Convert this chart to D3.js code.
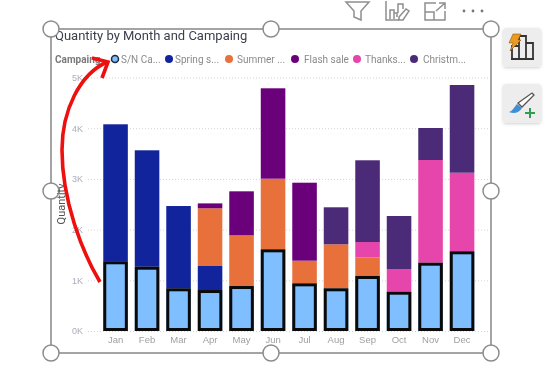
<!DOCTYPE html>
<html>
<head>
<meta charset="utf-8">
<script src="https://cdn.jsdelivr.net/npm/d3@7"></script>
<style>
html, body { margin: 0; padding: 0; background: #fff; }
svg { display: block; font-family: Roboto, "Open Sans", sans-serif; filter: blur(0.4px); }
</style>
</head>
<body>
<div id="chart"></div>
<script>
var months = ["Jan","Feb","Mar","Apr","May","Jun","Jul","Aug","Sep","Oct","Nov","Dec"];
var campaigns = ["S/N Campaign","Spring sale","Summer sale","Flash sale","Thanksgiving","Christmas"];
var legendLabels = ["S/N Ca...","Spring s...","Summer ...","Flash sale","Thanks...","Christm..."];
var legendDotX = [115,169,229,295,357,414];
var legendTextX = [121,175,237,304,365,423];
var colors = ["#80bfff","#11249b","#e8703a","#6b007b","#e645ab","#4b2a78"];

var snCampaign = [1375,1268,842,808,887,1611,940,842,1085,775,1347,1572];
var springSale = [2702,2296,1623,474,0,0,0,0,0,0,0,0];
var summerSale = [0,0,0,1138,1000,1393,447,868,368,0,0,0];
var flashSale = [0,0,0,97,868,1783,1538,0,0,0,0,0];
var thanksgiving = [0,0,0,0,0,0,0,0,302,448,2026,1550];
var christmas = [0,0,0,0,0,0,0,730,1612,1045,631,1730];
var yTicks = [0,1000,2000,3000,4000,5000];

var table = months.map(function(m,i) {
    return {
        month: m,
        "S/N Campaign": snCampaign[i],
        "Spring sale": springSale[i],
        "Summer sale": summerSale[i],
        "Flash sale": flashSale[i],
        "Thanksgiving": thanksgiving[i],
        "Christmas": christmas[i]
    };
});

var svg = d3.select("#chart").append("svg")
    .attr("width",557)
    .attr("height",375);

var defs = svg.append("defs");
var shadow = defs.append("filter").attr("id","btnshadow")
    .attr("x","-20%").attr("y","-20%").attr("width","140%").attr("height","140%");
shadow.append("feDropShadow")
    .attr("dx",0).attr("dy",1).attr("stdDeviation",1.5)
    .attr("flood-color","#000").attr("flood-opacity",0.18);

var x = d3.scaleBand()
    .domain(months)
    .range([99.8,477.8])
    .paddingInner(0.22)
    .paddingOuter(0.11);

var y = d3.scaleLinear()
    .domain([0,5000])
    .range([331,77.5]);

var color = d3.scaleOrdinal().domain(campaigns).range(colors);

// dotted gridlines
var grid = svg.append("g")
    .attr("transform","translate(88,0)")
    .call(d3.axisLeft(y).tickValues(yTicks).tickSize(-400).tickFormat(""));
grid.select(".domain").remove();
grid.selectAll("line")
    .attr("stroke","#d4d4d4")
    .attr("stroke-dasharray","1 2");

var yAxis = svg.append("g")
    .attr("transform","translate(83,0)")
    .call(d3.axisLeft(y).tickValues(yTicks).tickSize(0).tickPadding(0)
        .tickFormat(function(d) { return (d/1000) + "K"; }));
yAxis.select(".domain").remove();
yAxis.selectAll("text").attr("fill","#a9adb8").attr("font-size",9);

var xAxis = svg.append("g")
    .attr("transform","translate(0,331)")
    .call(d3.axisBottom(x).tickSize(0).tickPadding(5));
xAxis.select(".domain").remove();
xAxis.selectAll("text").attr("fill","#a0a0a0").attr("font-size",9.5);

var series = d3.stack().keys(campaigns)(table);

svg.selectAll(".series")
    .data(series)
    .enter().append("g")
    .attr("class","series")
    .attr("fill",function(d) { return color(d.key); })
    .selectAll("rect")
    .data(function(d) { return d.filter(function(p) { return p[1] > p[0]; }); })
    .enter().append("rect")
    .attr("x",function(d) { return x(d.data.month); })
    .attr("y",function(d) { return y(d[1]); })
    .attr("width",x.bandwidth())
    .attr("height",function(d) { return y(d[0]) - y(d[1]); });

// black outline on the first series, kept inside the bar
svg.selectAll(".outline")
    .data(series[0])
    .enter().append("rect")
    .attr("class","outline")
    .attr("x",function(d) { return x(d.data.month) + 1.5; })
    .attr("y",function(d) { return y(d[1]) + 1.5; })
    .attr("width",x.bandwidth() - 3)
    .attr("height",function(d) { return y(d[0]) - y(d[1]) - 3; })
    .attr("fill","none")
    .attr("stroke","#0a0a0a")
    .attr("stroke-width",3);

// title + legend
svg.append("text")
    .attr("x",55).attr("y",40)
    .attr("font-size",13)
    .attr("fill","#3a3f4c")
    .text("Quantity by Month and Campaing");

svg.append("text")
    .attr("x",55).attr("y",63)
    .attr("font-size",10)
    .attr("font-weight","bold")
    .attr("fill","#7a7a7a")
    .text("Campaing");

svg.selectAll(".legdot")
    .data(campaigns)
    .enter().append("circle")
    .attr("class","legdot")
    .attr("cx",function(d,i) { return legendDotX[i]; })
    .attr("cy",59)
    .attr("r",function(d,i) { return i == 0 ? 3.5 : 4; })
    .attr("fill",function(d) { return color(d); })
    .attr("stroke",function(d,i) { return i == 0 ? "#1c2a3a" : "none"; })
    .attr("stroke-width",1.5);

svg.selectAll(".legtext")
    .data(legendLabels)
    .enter().append("text")
    .attr("class","legtext")
    .attr("x",function(d,i) { return legendTextX[i]; })
    .attr("y",63)
    .attr("font-size",10)
    .attr("fill","#8a8a8a")
    .text(function(d) { return d; });

// selection frame and handles
svg.append("rect")
    .attr("x",51).attr("y",29)
    .attr("width",440).attr("height",324)
    .attr("fill","none")
    .attr("stroke","#a4a4a4")
    .attr("stroke-width",2);

var handles = [[51,29],[271,29],[491,29],[51,191],[491,191],[51,353],[271,353],[491,353]];
svg.selectAll(".handle")
    .data(handles)
    .enter().append("circle")
    .attr("class","handle")
    .attr("cx",function(d) { return d[0]; })
    .attr("cy",function(d) { return d[1]; })
    .attr("r",8)
    .attr("fill","#fff")
    .attr("stroke","#8c8c8c")
    .attr("stroke-width",1.5);

svg.append("text")
    .attr("transform","translate(65,204) rotate(-90)")
    .attr("text-anchor","middle")
    .attr("font-size",11)
    .attr("fill","#555")
    .text("Quantity");

// toolbar icons above the visual
var tool = svg.append("g").attr("fill","none").attr("stroke","#8f8f8f").attr("stroke-width",1.5);
tool.append("path").attr("d","M346 2H369L361 11V20L354 17V11Z");
tool.append("path").attr("d","M386 1V20H399M390 19V10H394V19M394 19V13H397V17M398 13V4H403V9");
tool.append("path").attr("d","M399 20L403 20L409 11L406 9L399 17Z");
tool.append("path").attr("d","M436 3H425V20H445V11M425 12H434V20M436 11L445 3M439 3H445V9");
svg.selectAll(".dot3")
    .data([464,473,482])
    .enter().append("circle")
    .attr("class","dot3")
    .attr("cx",function(d) { return d; })
    .attr("cy",11)
    .attr("r",1.4)
    .attr("fill","#777");

// side buttons
svg.append("rect").attr("x",503).attr("y",28).attr("width",38).attr("height",39).attr("rx",3).attr("fill","#ededed").attr("filter","url(#btnshadow)");
svg.append("rect").attr("x",503).attr("y",84).attr("width",38).attr("height",39).attr("rx",3).attr("fill","#ededed").attr("filter","url(#btnshadow)");
var btn = svg.append("g").attr("fill","none");
btn.append("path").attr("d","M512 59V46H519V59M519 59V36H526V59M526 59V43H533V59M511 59H534")
    .attr("stroke","#333").attr("stroke-width",1.8);
btn.append("path").attr("d","M513 34H521L518 40H521L510 51L513 43H509Z").attr("fill","#ee9a20").attr("stroke","#6a4a10").attr("stroke-width",0.5);
btn.append("path").attr("d","M509 112C513 111 514 107 517 104L522 108C519 113 514 114 509 112Z").attr("fill","#3f8fd6");
btn.append("path").attr("d","M518 103L532 93L534 95L522 107Z").attr("stroke","#555").attr("stroke-width",1.3).attr("fill","#fff");
btn.append("path").attr("d","M530 108V118M525 113H535").attr("stroke","#2f9e4f").attr("stroke-width",2);

// red annotation arrow
svg.append("path")
    .attr("d","M100 282C82 252 62 200 62 150C62 110 80 74 107 62")
    .attr("fill","none").attr("stroke","#ee0f0f").attr("stroke-width",3.6);
svg.append("path")
    .attr("d","M92 58L108 62L102 78")
    .attr("fill","none").attr("stroke","#ee0f0f").attr("stroke-width",3.6);
</script>
</body>
</html>
